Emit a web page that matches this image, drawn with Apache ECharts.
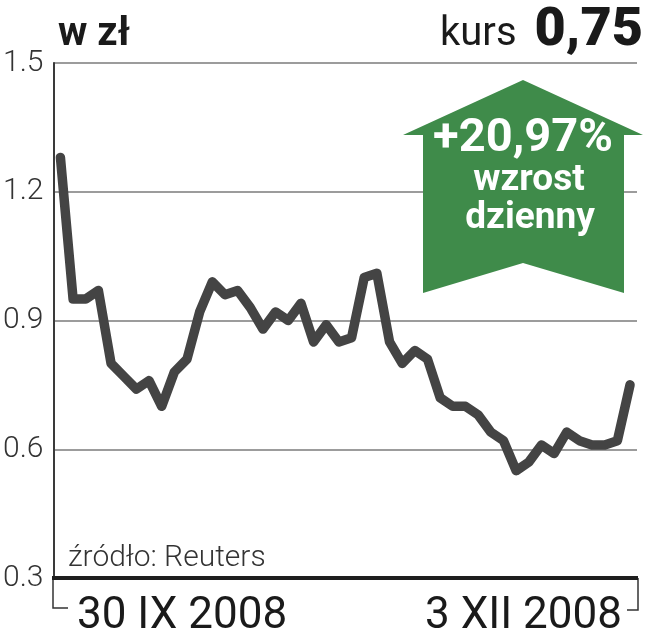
<!DOCTYPE html>
<html>
<head>
<meta charset="utf-8">
<script src="https://cdn.jsdelivr.net/npm/echarts@6/dist/echarts.min.js"></script>
<style>
html,body{margin:0;padding:0;background:#fff;}
#chart{width:649px;height:640px;}
</style>
</head>
<body>
<div id="chart"></div>
<script>
// Daily closing price (zł), 30 IX 2008 – 3 XII 2008
var values = [1.28,0.95,0.95,0.97,0.80,0.77,0.74,0.76,0.70,0.78,0.81,0.92,0.99,0.96,0.97,0.93,0.88,0.92,0.90,0.94,0.85,0.89,0.85,0.86,1.00,1.01,0.85,0.80,0.83,0.81,0.72,0.70,0.70,0.68,0.64,0.62,0.55,0.57,0.61,0.59,0.64,0.62,0.61,0.61,0.62,0.75];
var xLabels = ['30 IX 2008', '3 XII 2008'];
var yTicks = [0.3, 0.6, 0.9, 1.2, 1.5];
var unitLabel = 'w zł';
var rateLabel = 'kurs';
var rateValue = '0,75';
var changeLabel = ['+20,97%', 'wzrost', 'dzienny'];
var sourceLabel = 'źródło: Reuters';

var seriesData = values.map(function (v, i) { return [i, v]; });

var chart = echarts.init(document.getElementById('chart'), null, {renderer: 'canvas'});
var FONT = 'Roboto, "Liberation Sans", sans-serif';
var txt = '#1a1a1a';
var green = '#3f8b4a';

var option = {
  animation: false,
  backgroundColor: '#ffffff',
  grid: {left: 53, right: 12, top: 63, bottom: 62},
  xAxis: {
    type: 'value',
    min: -0.55,
    max: values.length - 1 + 0.55,
    axisLine: {show: false},
    axisTick: {show: false},
    axisLabel: {show: false},
    splitLine: {show: false}
  },
  yAxis: {
    type: 'value',
    min: yTicks[0],
    max: yTicks[yTicks.length - 1],
    interval: 0.3,
    axisLine: {show: true, onZero: false, lineStyle: {color: '#3a3a3a', width: 2}},
    axisTick: {show: false},
    axisLabel: {
      margin: 10,
      fontFamily: FONT,
      fontWeight: 300,
      fontSize: 30,
      color: '#333',
      formatter: function (v) { return v.toFixed(1); }
    },
    splitLine: {show: true, lineStyle: {color: '#9c9c9c', width: 2}}
  },
  series: [{
    type: 'line',
    data: seriesData,
    symbol: 'none',
    lineStyle: {color: '#444444', width: 9.5, join: 'round', cap: 'round'},
    z: 3
  }],
  graphic: [
    // bottom axis line
    {type: 'line', shape: {x1: 52, y1: 578, x2: 638, y2: 578}, style: {stroke: '#1e1e1e', lineWidth: 4}, z: 10},
    // brackets
    {type: 'polyline', shape: {points: [[53, 578], [53, 608], [68, 608]]}, style: {stroke: '#333', lineWidth: 1.5, fill: null}},
    {type: 'polyline', shape: {points: [[638, 578], [638, 610], [627, 610]]}, style: {stroke: '#333', lineWidth: 1.5, fill: null}},
    // arrow
    {type: 'polygon', z: 20, shape: {points: [[523, 80], [643, 135], [624, 135], [624, 293], [523, 263], [423, 293], [423, 135], [403, 135]]}, style: {fill: green}},
    {type: 'text', z: 21, x: 523, y: 139, style: {text: changeLabel[0], font: 'bold 47px ' + FONT, fill: '#fff', align: 'center', verticalAlign: 'middle'}},
    {type: 'text', z: 21, x: 529, y: 181, style: {text: changeLabel[1], font: 'bold 37px ' + FONT, fill: '#fff', align: 'center', verticalAlign: 'middle'}},
    {type: 'text', z: 21, x: 530, y: 219, style: {text: changeLabel[2], font: 'bold 37px ' + FONT, fill: '#fff', align: 'center', verticalAlign: 'middle'}},
    // titles
    {type: 'text', x: 58, y: 35, style: {text: unitLabel, font: 'bold 40px ' + FONT, fill: txt, align: 'left', verticalAlign: 'middle'}},
    {type: 'text', x: 440, y: 35, style: {text: rateLabel, font: '40px ' + FONT, fill: txt, align: 'left', verticalAlign: 'middle'}},
    {type: 'text', x: 643, y: 31, style: {text: rateValue, font: '900 54px ' + FONT, fill: txt, align: 'right', verticalAlign: 'middle'}},
    // source
    {type: 'text', x: 68, y: 558, style: {text: sourceLabel, font: '300 30px ' + FONT, fill: '#333', align: 'left', verticalAlign: 'middle'}},
    // x labels
    {type: 'text', x: 77, y: 617, style: {text: xLabels[0], font: '44px ' + FONT, fill: txt, align: 'left', verticalAlign: 'middle'}},
    {type: 'text', x: 622, y: 617, style: {text: xLabels[1], font: '44px ' + FONT, fill: txt, align: 'right', verticalAlign: 'middle'}}
  ]
};
chart.setOption(option);
</script>
</body>
</html>
